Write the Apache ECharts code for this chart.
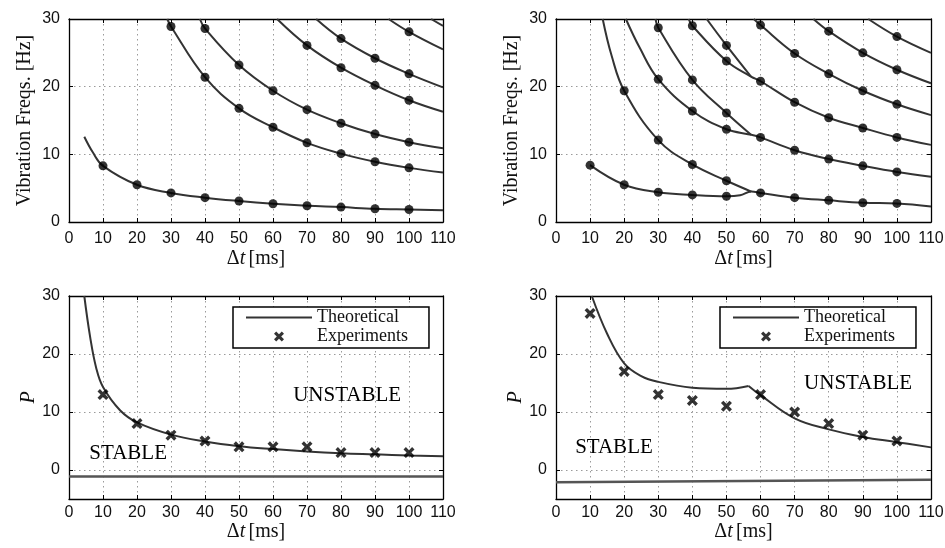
<!DOCTYPE html>
<html>
<head>
<meta charset="utf-8">
<script src="https://cdn.jsdelivr.net/npm/echarts@6/dist/echarts.min.js"></script>
<style>
html, body { margin: 0; padding: 0; background: #fff; }
#chart { width: 945px; height: 548px; }
</style>
</head>
<body>
<div id="chart"></div>
<script>
// ---- tick values ----
const dtTicks = [0, 10, 20, 30, 40, 50, 60, 70, 80, 90, 100, 110];
const freqTicks = [0, 10, 20, 30];
const pTicks = [0, 10, 20, 30];

// ---- top-left: vibration frequencies vs. sampling period, [dt, Hz] ----
// "Dots" are the identified frequencies, "Path" the remaining points of the curve.
const tlMode1Dots = [[10, 8.3], [20, 5.5], [30, 4.3], [40, 3.6], [50, 3.1], [60, 2.7], [70, 2.4], [80, 2.2], [90, 1.95], [100, 1.85]];
const tlMode1Path = [[4.5, 12.6], [7, 10.3], [110, 1.75]];
const tlMode2Dots = [[30, 28.9], [40, 21.4], [50, 16.8], [60, 14.0], [70, 11.7], [80, 10.1], [90, 8.9], [100, 8.0]];
const tlMode2Path = [[28.9, 30], [110, 7.3]];
const tlMode3Dots = [[40, 28.6], [50, 23.2], [60, 19.4], [70, 16.6], [80, 14.6], [90, 13.0], [100, 11.8]];
const tlMode3Path = [[38.5, 30], [110, 10.9]];
const tlMode4Dots = [[70, 26.1], [80, 22.8], [90, 20.2], [100, 18.0]];
const tlMode4Path = [[61.2, 30], [110, 16.3]];
const tlMode5Dots = [[80, 27.1], [90, 24.2], [100, 21.9]];
const tlMode5Path = [[72.7, 30], [110, 19.9]];
const tlMode6Dots = [[100, 28.1]];
const tlMode6Path = [[94, 30], [110, 25.5]];
const tlMode7Dots = [];
const tlMode7Path = [[106.5, 30], [110, 29.0]];

// ---- top-right: vibration frequencies, second configuration ----
const trMode1Dots = [[10, 8.4], [20, 5.5], [30, 4.4], [40, 4.0], [50, 3.8], [60, 4.3], [70, 3.6], [80, 3.2], [90, 2.85], [100, 2.75]];
const trMode1Path = [[54, 3.95], [57.3, 4.5], [110, 2.3]];
const trMode2Dots = [[20, 19.4], [30, 12.1], [40, 8.5], [50, 6.1]];
const trMode2Path = [[13.7, 30], [16.3, 24.6], [57.3, 4.5]];
const trMode3Dots = [[30, 21.1], [40, 16.4], [50, 13.7], [60, 12.5], [70, 10.6], [80, 9.3], [90, 8.3], [100, 7.4]];
const trMode3Path = [[20.5, 30], [24.6, 25.7], [57.2, 12.9], [110, 6.7]];
const trMode4Dots = [[30, 28.7], [40, 21.0], [50, 16.1]];
const trMode4Path = [[29.2, 30], [57.2, 12.9]];
const trMode5Dots = [[40, 29.0], [50, 23.8], [60, 20.8], [70, 17.7], [80, 15.4], [90, 13.9], [100, 12.5]];
const trMode5Path = [[38.9, 30], [57.2, 21.5], [110, 11.4]];
const trMode6Dots = [[50, 26.1]];
const trMode6Path = [[44.2, 30], [57.2, 21.5]];
const trMode7Dots = [[60, 29.1], [70, 24.9], [80, 21.9], [90, 19.4], [100, 17.4]];
const trMode7Path = [[58, 30], [110, 15.8]];
const trMode8Dots = [[80, 28.2], [90, 25.0], [100, 22.5]];
const trMode8Path = [[75.5, 30], [110, 20.5]];
const trMode9Dots = [[100, 27.4]];
const trMode9Path = [[91.6, 30], [110, 25.0]];

// ---- bottom-left: stability limit P ----
const blTheory = [[4.5, 30], [6.2, 23], [8, 17.6], [10, 14.3], [15, 10.3], [20, 8.2], [30, 6.1], [40, 4.9], [50, 4.1], [60, 3.6], [70, 3.2], [80, 2.9], [90, 2.7], [100, 2.5], [110, 2.35]];
const blExperiments = [[10, 13], [20, 8], [30, 6], [40, 5], [50, 4], [60, 4], [70, 4], [80, 3], [90, 3], [100, 3]];
const blLowerBound = [[0, -1.1], [110, -1.1]];
const blRegions = [['UNSTABLE', 81.8, 12.8], ['STABLE', 17.4, 2.9]];

// ---- bottom-right: stability limit P, second configuration ----
const brTheoryLeft = [[10.5, 30], [15, 23.5], [20, 18.4], [25, 16.2], [30, 15.2], [40, 14.2], [50, 14.0], [56.5, 14.5]];
const brTheoryRight = [[56.5, 14.5], [60, 12.9], [70, 8.9], [80, 7.0], [90, 5.7], [100, 4.8], [110, 3.9]];
const brExperiments = [[10, 27], [20, 17], [30, 13], [40, 12], [50, 11], [60, 13], [70, 10], [80, 8], [90, 6], [100, 5]];
const brLowerBound = [[0, -2.1], [110, -1.7]];
const brRegions = [['UNSTABLE', 88.6, 14.9], ['STABLE', 17.0, 3.8]];

// ---- styling ----
const SANS = 'Liberation Sans';
const SERIF = 'Liberation Serif';
const INK = '#111';
const CURVE = '#333';
const CROSS = 'path://M0,2.2 L2.2,0 L5,2.8 L7.8,0 L10,2.2 L7.2,5 L10,7.8 L7.8,10 L5,7.2 L2.2,10 L0,7.8 L2.8,5 Z';
const BAR = 'path://M0,0 L66,0 L66,2 L0,2 Z';

const grids = [
  { left: 69, top: 19, width: 374, height: 203 },
  { left: 556, top: 19, width: 375, height: 203 },
  { left: 69, top: 296, width: 374, height: 203 },
  { left: 556, top: 296, width: 375, height: 203 }
].map(g => Object.assign({ outerBoundsMode: 'none', containLabel: false }, g));

const frame = { show: true, onZero: false, lineStyle: { color: '#000', width: 1.3 } };
const innerTick = { show: true, inside: true, length: 4, lineStyle: { color: '#000', width: 1 } };
const dotted = { show: true, lineStyle: { color: '#9a9a9a', width: 1, type: [1.5, 3.5] } };
const tickFont = { fontFamily: SANS, fontSize: 16, color: INK };

const dtName = '{a|Δ}{b|t} {a|[ms]}';
const nameRich = {
  a: { fontFamily: SERIF, fontSize: 20, color: INK },
  b: { fontFamily: SERIF, fontSize: 20, color: INK, fontStyle: 'italic' }
};

const xAxes = [];
const yAxes = [];
grids.forEach((g, i) => {
  const bottomRow = i >= 2;
  xAxes.push({
    type: 'value', gridIndex: i, position: 'bottom', min: 0, max: 110, interval: 10,
    axisLine: frame, axisTick: innerTick, splitLine: dotted,
    axisLabel: Object.assign({ margin: bottomRow ? 6 : 9 }, tickFont),
    name: dtName, nameLocation: 'middle', nameGap: bottomRow ? 19 : 27,
    nameTextStyle: { rich: nameRich }
  });
  xAxes.push({
    type: 'value', gridIndex: i, position: 'top', min: 0, max: 110, interval: 10,
    axisLine: frame, axisTick: innerTick, splitLine: { show: false }, axisLabel: { show: false }
  });
  if (!bottomRow) {
    yAxes.push({
      type: 'value', gridIndex: i, position: 'left', min: 0, max: 30, interval: 10,
      axisLine: frame, axisTick: innerTick, splitLine: dotted,
      axisLabel: Object.assign({ margin: 9 }, tickFont),
      name: 'Vibration Freqs. [Hz]', nameLocation: 'middle', nameGap: 34,
      nameTextStyle: { fontFamily: SERIF, fontSize: 20, color: INK }
    });
    yAxes.push({
      type: 'value', gridIndex: i, position: 'right', min: 0, max: 30, interval: 10,
      axisLine: frame, axisTick: innerTick, splitLine: { show: false }, axisLabel: { show: false }
    });
  } else {
    yAxes.push({
      type: 'value', gridIndex: i, position: 'left', min: -5, max: 30,
      axisLine: frame,
      axisTick: Object.assign({ customValues: pTicks }, innerTick),
      splitLine: dotted,
      axisLabel: Object.assign({ margin: 9, customValues: pTicks }, tickFont),
      name: 'P', nameLocation: 'middle', nameGap: 30,
      nameTextStyle: { fontFamily: SERIF, fontSize: 20, color: INK, fontStyle: 'italic' }
    });
    yAxes.push({
      type: 'value', gridIndex: i, position: 'right', min: -5, max: 30,
      axisLine: frame,
      axisTick: Object.assign({ customValues: pTicks }, innerTick),
      splitLine: { show: false }, axisLabel: { show: false }
    });
  }
});

const byDt = (a, b) => a[0] - b[0];
const series = [];

function addMode(panel, dots, path) {
  series.push({
    type: 'line', name: 'mode', xAxisIndex: panel * 2, yAxisIndex: panel * 2,
    data: dots.concat(path).sort(byDt), showSymbol: false, symbol: 'none',
    smooth: 0.4, clip: true, silent: true,
    lineStyle: { color: CURVE, width: 2 }, z: 3
  });
  if (dots.length) {
    series.push({
      type: 'scatter', name: 'identified', xAxisIndex: panel * 2, yAxisIndex: panel * 2,
      data: dots, symbol: 'circle', symbolSize: 9, silent: true,
      itemStyle: { color: '#000' }, z: 4
    });
  }
}

[[tlMode1Dots, tlMode1Path], [tlMode2Dots, tlMode2Path], [tlMode3Dots, tlMode3Path],
 [tlMode4Dots, tlMode4Path], [tlMode5Dots, tlMode5Path], [tlMode6Dots, tlMode6Path],
 [tlMode7Dots, tlMode7Path]].forEach(([d, p]) => addMode(0, d, p));

[[trMode1Dots, trMode1Path], [trMode2Dots, trMode2Path], [trMode3Dots, trMode3Path],
 [trMode4Dots, trMode4Path], [trMode5Dots, trMode5Path], [trMode6Dots, trMode6Path],
 [trMode7Dots, trMode7Path], [trMode8Dots, trMode8Path], [trMode9Dots, trMode9Path]]
 .forEach(([d, p]) => addMode(1, d, p));

function addStability(panel, theoryParts, experiments, bound, regions) {
  const ax = panel * 2;
  theoryParts.forEach(part => {
    series.push({
      type: 'line', name: 'Theoretical', xAxisIndex: ax, yAxisIndex: ax,
      data: part, symbol: 'none', showSymbol: false, smooth: 0.4, clip: true,
      lineStyle: { color: CURVE, width: 2 }, itemStyle: { color: CURVE }, z: 3, silent: true
    });
  });
  series.push({
    type: 'line', name: 'bound', xAxisIndex: ax, yAxisIndex: ax,
    data: bound, symbol: 'none', showSymbol: false,
    lineStyle: { color: '#555', width: 2.5 }, z: 3, silent: true
  });
  series.push({
    type: 'scatter', name: 'Experiments', xAxisIndex: ax, yAxisIndex: ax,
    data: experiments, symbol: CROSS, symbolSize: 11,
    itemStyle: { color: '#000' }, z: 4, silent: true
  });
  series.push({
    type: 'scatter', name: 'regions', xAxisIndex: ax, yAxisIndex: ax,
    data: regions.map(r => ({ name: r[0], value: [r[1], r[2]] })),
    symbol: 'circle', symbolSize: 1, itemStyle: { color: 'transparent' }, silent: true,
    label: {
      show: true, position: 'inside', formatter: p => p.name,
      fontFamily: SERIF, fontSize: 21, color: '#000',
      textBorderWidth: 0, opacity: 1
    },
    labelLayout: { hideOverlap: false }, z: 5
  });
}

addStability(2, [blTheory], blExperiments, blLowerBound, blRegions);
addStability(3, [brTheoryLeft, brTheoryRight], brExperiments, brLowerBound, brRegions);

const legendBase = {
  orient: 'vertical', top: 307, selectedMode: false,
  itemWidth: 66, itemHeight: 10, itemGap: 0,
  padding: [1, 21, 2, 13],
  borderColor: '#000', borderWidth: 1.5, backgroundColor: '#fff',
  textStyle: { fontFamily: SERIF, fontSize: 18, color: INK, lineHeight: 19 },
  data: [{ name: 'Theoretical', icon: BAR }, { name: 'Experiments', icon: CROSS }]
};

const chart = echarts.init(document.getElementById('chart'), null, { renderer: 'canvas' });
chart.setOption({
  backgroundColor: '#fff',
  animation: false,
  grid: grids,
  xAxis: xAxes,
  yAxis: yAxes,
  legend: [Object.assign({ left: 233 }, legendBase), Object.assign({ left: 720 }, legendBase)],
  series: series
});
</script>
</body>
</html>
